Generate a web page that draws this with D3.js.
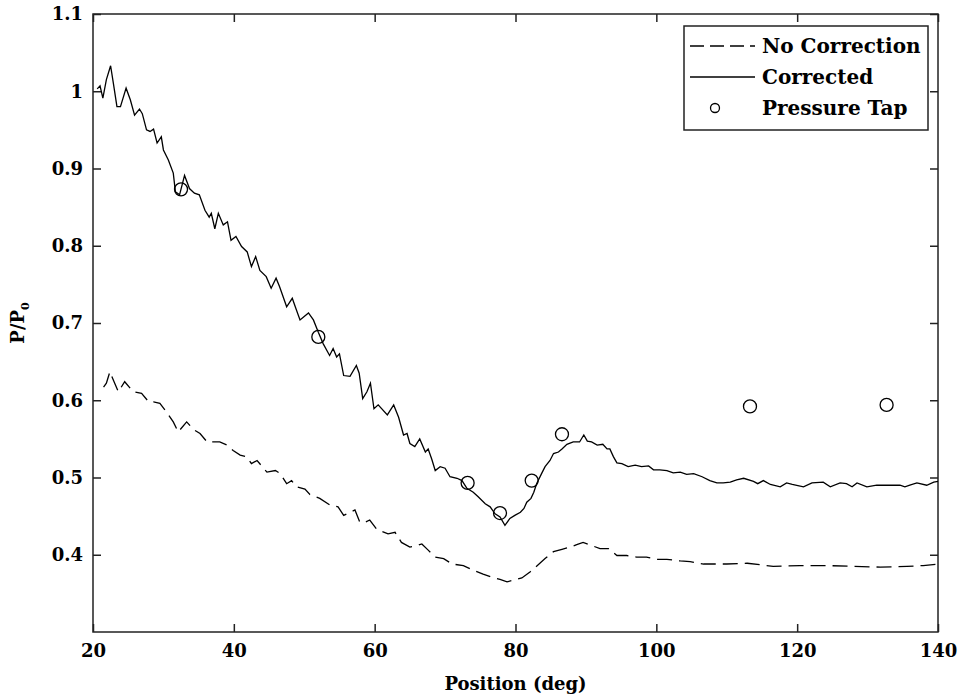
<!DOCTYPE html>
<html>
<head>
<meta charset="utf-8">
<script src="https://cdn.jsdelivr.net/npm/d3@7"></script>
<style>
  body { margin: 0; background: #fff; }
  svg text { font-family: "DejaVu Serif", serif; font-weight: bold; fill: #000; }
</style>
</head>
<body>
<svg width="961" height="700"></svg>
<script>
// corrected pressure ratio (deg, P/P0)
var corrected = [
  [20.6, 1.003], [21.0, 1.007], [21.4, 0.991], [21.9, 1.015], [22.5, 1.033], [22.9, 1.010],
  [23.4, 0.980], [23.9, 0.980], [24.7, 1.004], [25.3, 0.989], [25.9, 0.969], [26.6, 0.977],
  [27.0, 0.971], [27.6, 0.950], [28.1, 0.948], [28.6, 0.951], [29.1, 0.933], [29.7, 0.941],
  [30.0, 0.924], [30.7, 0.911], [31.4, 0.894], [31.7, 0.870], [32.3, 0.866], [33.0, 0.891],
  [33.7, 0.874], [34.4, 0.868], [35.1, 0.866], [35.9, 0.846], [36.5, 0.837], [36.8, 0.842],
  [37.3, 0.822], [37.8, 0.842], [38.5, 0.827], [39.1, 0.831], [39.6, 0.807], [40.3, 0.812],
  [41.1, 0.799], [41.9, 0.792], [42.5, 0.773], [43.1, 0.786], [43.7, 0.768], [44.6, 0.760],
  [45.3, 0.745], [46.0, 0.758], [46.5, 0.747], [47.5, 0.721], [48.3, 0.732], [48.8, 0.719],
  [49.4, 0.704], [50.6, 0.713], [51.3, 0.704], [52.0, 0.688], [52.7, 0.673], [53.6, 0.658],
  [54.1, 0.667], [54.6, 0.656], [55.0, 0.660], [55.6, 0.632], [56.5, 0.631], [57.4, 0.645],
  [57.8, 0.635], [58.3, 0.602], [58.9, 0.611], [59.4, 0.622], [59.9, 0.589], [60.5, 0.594],
  [61.8, 0.581], [62.7, 0.594], [63.4, 0.578], [64.1, 0.555], [64.6, 0.557], [65.0, 0.544],
  [65.7, 0.540], [66.4, 0.550], [67.2, 0.533], [67.6, 0.537], [68.1, 0.524], [68.6, 0.509],
  [69.3, 0.514], [70.0, 0.512], [70.7, 0.501], [71.7, 0.499], [72.4, 0.496], [73.1, 0.486],
  [74.0, 0.481], [74.7, 0.475], [75.7, 0.466], [76.4, 0.462], [77.1, 0.453], [77.8, 0.449],
  [78.5, 0.438], [79.2, 0.447], [79.9, 0.451], [80.7, 0.455], [81.2, 0.460], [81.6, 0.468],
  [82.2, 0.473], [82.6, 0.481], [83.0, 0.492], [83.7, 0.505], [84.2, 0.514], [84.9, 0.522],
  [85.4, 0.531], [86.1, 0.533], [86.6, 0.537], [87.3, 0.543], [88.2, 0.546], [89.1, 0.546],
  [89.7, 0.555], [90.2, 0.547], [90.8, 0.546], [91.6, 0.542], [92.4, 0.543], [93.0, 0.537],
  [93.4, 0.537], [93.9, 0.527], [94.4, 0.519], [95.1, 0.518], [96.0, 0.514], [97.0, 0.516],
  [97.9, 0.514], [98.9, 0.515], [99.6, 0.510], [100.5, 0.510], [101.5, 0.509], [102.4, 0.506],
  [103.4, 0.507], [104.3, 0.504], [105.3, 0.505], [106.5, 0.501], [107.6, 0.496], [108.6, 0.493],
  [109.5, 0.493], [110.5, 0.494], [111.4, 0.497], [112.4, 0.499], [113.8, 0.495], [114.4, 0.492],
  [115.2, 0.496], [116.2, 0.491], [117.6, 0.488], [118.5, 0.493], [119.3, 0.491], [120.9, 0.488],
  [122.1, 0.493], [123.7, 0.494], [124.7, 0.488], [126.1, 0.493], [127.0, 0.492], [127.8, 0.488],
  [128.5, 0.493], [129.9, 0.488], [131.3, 0.490], [134.6, 0.490], [135.3, 0.488], [136.0, 0.490],
  [137.0, 0.493], [138.4, 0.490], [139.4, 0.494], [140.0, 0.495]
];

// uncorrected pressure ratio (deg, P/P0)
var noCorrection = [
  [21.5, 0.617], [21.9, 0.622], [22.4, 0.637], [22.9, 0.626], [23.6, 0.611], [24.5, 0.624],
  [25.7, 0.611], [26.9, 0.609], [27.9, 0.598], [28.6, 0.598], [29.5, 0.596], [30.5, 0.584],
  [31.4, 0.572], [32.1, 0.559], [33.3, 0.572], [34.3, 0.562], [35.2, 0.557], [36.2, 0.546],
  [37.1, 0.546], [38.0, 0.546], [39.0, 0.542], [39.9, 0.535], [40.9, 0.529], [41.8, 0.527],
  [42.5, 0.518], [43.3, 0.522], [44.7, 0.507], [45.9, 0.509], [46.6, 0.505], [47.5, 0.492],
  [48.2, 0.496], [48.9, 0.488], [50.1, 0.485], [50.8, 0.478], [52.2, 0.473], [53.7, 0.464],
  [54.8, 0.462], [55.6, 0.451], [57.2, 0.458], [57.9, 0.442], [58.6, 0.442], [59.3, 0.445],
  [60.3, 0.433], [61.9, 0.427], [62.9, 0.429], [63.8, 0.416], [65.0, 0.410], [66.0, 0.412],
  [66.7, 0.414], [67.6, 0.406], [68.6, 0.397], [69.8, 0.395], [71.0, 0.388], [72.6, 0.386],
  [74.0, 0.380], [75.4, 0.375], [76.6, 0.371], [77.8, 0.368], [78.8, 0.365], [79.7, 0.367],
  [80.9, 0.370], [82.1, 0.378], [84.2, 0.395], [85.4, 0.404], [86.6, 0.407], [87.8, 0.410],
  [88.7, 0.413], [89.6, 0.416], [91.1, 0.411], [92.0, 0.408], [93.2, 0.408], [94.4, 0.399],
  [95.8, 0.399], [97.2, 0.397], [98.6, 0.397], [100.1, 0.394], [101.5, 0.394], [103.4, 0.392],
  [104.8, 0.391], [106.7, 0.388], [110.0, 0.388], [112.9, 0.389], [116.6, 0.385], [120.4, 0.386],
  [124.2, 0.386], [128.0, 0.385], [131.8, 0.384], [135.6, 0.385], [137.9, 0.386], [140.0, 0.388]
];

// pressure tap measurements
var taps = [
  [32.5, 0.873], [52.0, 0.682], [73.2, 0.493], [77.8, 0.454],
  [82.3, 0.496], [86.6, 0.556], [113.3, 0.592], [132.7, 0.594]
];

var xTicks = [20, 40, 60, 80, 100, 120, 140];
var yTicks = [0.4, 0.5, 0.6, 0.7, 0.8, 0.9, 1.0, 1.1];
var legendLabels = ["No Correction", "Corrected", "Pressure Tap"];

var svg = d3.select("svg");
var pLeft = 93, pRight = 938, pTop = 14, pBottom = 632;

var x = d3.scaleLinear().domain([20, 140]).range([pLeft, pRight]);
var y = d3.scaleLinear().domain([0.3, 1.1]).range([pBottom, pTop]);

var line = d3.line().x(function (d) { return x(d[0]); }).y(function (d) { return y(d[1]); });

var yFmt = function (d) { return String(+d.toFixed(1)); };

// axes, ticks pointing inward on all four sides
function styleAxis(g) {
  g.select(".domain").remove();
  g.selectAll(".tick line").attr("stroke", "#222").attr("stroke-width", 1.5);
  g.selectAll("text").style("font-size", "18px").style("font-family", "DejaVu Serif").style("font-weight", "bold");
}

svg.append("g").attr("transform", "translate(0," + pBottom + ")")
  .call(d3.axisBottom(x).tickValues(xTicks).tickSize(-8).tickPadding(12))
  .call(styleAxis);
svg.append("g").attr("transform", "translate(0," + pTop + ")")
  .call(d3.axisTop(x).tickValues(xTicks).tickSize(-8).tickFormat(""))
  .call(styleAxis);
svg.append("g").attr("transform", "translate(" + pLeft + ",0)")
  .call(d3.axisLeft(y).tickValues(yTicks).tickSize(-8).tickPadding(10).tickFormat(yFmt))
  .call(styleAxis);
svg.append("g").attr("transform", "translate(" + pRight + ",0)")
  .call(d3.axisRight(y).tickValues(yTicks).tickSize(-8).tickFormat(""))
  .call(styleAxis);

svg.append("rect")
  .attr("x", pLeft).attr("y", pTop).attr("width", pRight - pLeft).attr("height", pBottom - pTop)
  .attr("fill", "none").attr("stroke", "#222").attr("stroke-width", 1.5);

// data
svg.append("path").datum(noCorrection).attr("d", line)
  .attr("fill", "none").attr("stroke", "#000").attr("stroke-width", 1.3)
  .attr("stroke-dasharray", "15,7");
svg.append("path").datum(corrected).attr("d", line)
  .attr("fill", "none").attr("stroke", "#000").attr("stroke-width", 1.3);
svg.append("g").selectAll("circle").data(taps).enter().append("circle")
  .attr("cx", function (d) { return x(d[0]); })
  .attr("cy", function (d) { return y(d[1]); })
  .attr("r", 6.5)
  .attr("fill", "none").attr("stroke", "#000").attr("stroke-width", 1.3);

// axis labels
svg.append("text")
  .attr("x", (pLeft + pRight) / 2).attr("y", 690)
  .attr("text-anchor", "middle").style("font-size", "18px")
  .text("Position (deg)");

var yl = svg.append("text")
  .attr("transform", "translate(24," + (pTop + pBottom) / 2 + ")rotate(-90)")
  .attr("text-anchor", "middle").style("font-size", "18px");
yl.append("tspan").text("P/P");
yl.append("tspan").attr("dy", 5).style("font-size", "11px").text("0");

// legend
var lg = svg.append("g");
lg.append("rect").attr("x", 684).attr("y", 26).attr("width", 244).attr("height", 104)
  .attr("fill", "#fff").attr("stroke", "#222").attr("stroke-width", 1.5);
var rows = [46, 77, 108];
lg.append("line").attr("x1", 690).attr("x2", 755).attr("y1", rows[0]).attr("y2", rows[0])
  .attr("stroke", "#000").attr("stroke-width", 1.3).attr("stroke-dasharray", "14,6");
lg.append("line").attr("x1", 690).attr("x2", 755).attr("y1", rows[1]).attr("y2", rows[1])
  .attr("stroke", "#000").attr("stroke-width", 1.3);
lg.append("circle").attr("cx", 715).attr("cy", rows[2]).attr("r", 4.5)
  .attr("fill", "none").attr("stroke", "#000").attr("stroke-width", 1.3);
lg.selectAll("text.lab").data(legendLabels).enter().append("text")
  .attr("class", "lab")
  .attr("x", 762)
  .attr("y", function (d, i) { return rows[i] + 7; })
  .style("font-size", "20px")
  .text(function (d) { return d; });
</script>
</body>
</html>
